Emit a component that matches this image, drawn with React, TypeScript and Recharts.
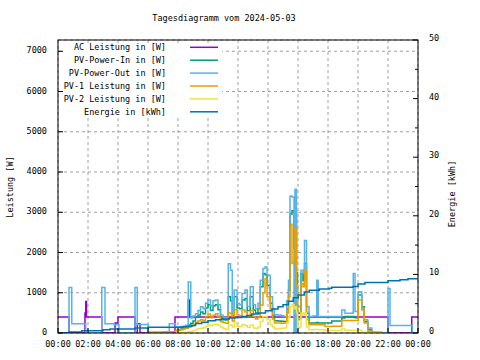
import React from "react";
import { LineChart, Line, XAxis, YAxis, CartesianGrid } from "recharts";

// AC power (W), step data
const acMinutes = [0, 44, 108, 111, 114, 175, 228, 240, 308, 317, 328, 468, 521, 525, 1320, 1415, 1440];
const acWatts = [400, 0, 500, 780, 400, 0, 250, 400, 0, 230, 0, 400, 820, 400, 0, 400, 400];

// PV-Power-Out night parts (W)
const outMorningMinutes = [0, 44, 55, 111, 175, 188, 225, 244, 308, 317, 361, 445];
const outMorningWatts = [0, 1130, 230, 0, 1130, 230, 205, 0, 1130, 210, 0, 230];
const outEveningMinutes = [1320, 1328, 1417, 1440];
const outEveningWatts = [1108, 188, 0, 0];

// daytime samples shared by the PV series
const dayMinutes = [
  470, 480, 490, 500, 510, 521, 531, 540, 550, 560,
  570, 580, 590, 600, 610, 620, 630, 640, 650, 660,
  670, 681, 690, 697, 705, 716, 726, 736, 748, 757,
  769, 781, 790, 800, 809, 820, 828, 836, 849, 858,
  866, 880, 892, 904, 915, 922, 928, 936, 944, 948,
  954, 958, 966, 972, 980, 986, 994, 1004, 1020, 1035,
  1041, 1068, 1095, 1135, 1148, 1181, 1188, 1201, 1215, 1225,
  1239, 1255, 1295,
];
const pvOutDay = [
  150, 150, 160, 170, 190, 1270, 370, 420, 480, 560,
  650, 600, 740, 820, 680, 800, 820, 700, 450, 400,
  380, 1720, 1560, 500, 1066, 740, 700, 984, 1066, 660,
  1150, 700, 600, 740, 1312, 1600, 1640, 1435, 902, 600,
  451, 450, 430, 410, 800, 1313, 3407, 3382, 0, 3571,
  0, 656, 650, 1560, 1480, 2300, 656, 410, 420, 1313,
  410, 410, 410, 574, 493, 1478, 533, 1025, 616, 328,
  123, 0, 0,
];
const pvInDay = [
  60, 80, 100, 120, 150, 200, 240, 300, 400, 450,
  520, 480, 620, 700, 560, 680, 700, 580, 380, 330,
  320, 900, 800, 420, 900, 620, 600, 820, 860, 560,
  900, 574, 500, 600, 1148, 1476, 1450, 1189, 738, 450,
  303, 300, 290, 287, 600, 1067, 2955, 3037, 2100, 3050,
  1500, 490, 500, 1478, 1300, 1724, 490, 246, 250, 260,
  250, 246, 300, 370, 410, 410, 380, 943, 655, 286,
  82, 0, 0,
];
const pv1Day = [
  60, 70, 80, 100, 120, 140, 170, 200, 260, 300,
  330, 310, 410, 470, 380, 440, 480, 400, 280, 260,
  240, 500, 480, 300, 575, 450, 430, 574, 520, 420,
  560, 410, 350, 400, 697, 1000, 1350, 902, 574, 350,
  246, 246, 240, 246, 500, 903, 2700, 1724, 1800, 2600,
  1200, 330, 350, 1230, 1150, 1560, 330, 205, 205, 210,
  205, 164, 170, 310, 310, 310, 310, 820, 574, 246,
  41, 25, 0,
];
const pv2Day = [
  0, 5, 10, 15, 20, 30, 40, 60, 90, 110,
  120, 130, 170, 200, 180, 210, 220, 190, 150, 110,
  90, 200, 190, 150, 246, 170, 160, 205, 180, 140,
  200, 123, 120, 150, 287, 410, 410, 328, 205, 150,
  98, 110, 120, 123, 250, 400, 655, 700, 600, 650,
  500, 123, 150, 500, 450, 500, 150, 82, 85, 85,
  82, 60, 60, 98, 70, 70, 70, 70, 16, 16,
  0, 0, 0,
];
const pv1EarlyMinutes = [355, 420];
const pv1EarlyWatts = [25, 30];

// Energie (kWh), cumulative
const energyMinutes = [
  0, 45, 95, 180, 208, 308, 360, 500, 520, 535,
  550, 575, 600, 630, 655, 685, 710, 735, 755, 775,
  803, 830, 856, 880, 900, 921, 941, 961, 985, 1005,
  1045, 1085, 1095, 1180, 1200, 1228, 1320, 1368, 1400, 1440,
];
const energyKwh = [
  0, 0.17, 0.4, 0.56, 0.68, 0.85, 1.0, 1.05, 1.15, 1.3,
  1.6, 1.85, 2.1, 2.25, 2.4, 2.55, 2.66, 2.83, 3.0, 3.24,
  3.4, 3.8, 4.1, 4.5, 4.8, 5.4, 6.0, 6.5, 7.0, 7.3,
  7.5, 7.65, 7.8, 7.95, 8.35, 8.63, 8.9, 9.1, 9.27, 9.27,
];

const hourTicks = [0, 120, 240, 360, 480, 600, 720, 840, 960, 1080, 1200, 1320, 1440];
const minorHourTicks = [60, 180, 300, 420, 540, 660, 780, 900, 1020, 1140, 1260, 1380];
const allHourTicks = [...hourTicks, ...minorHourTicks];
const wattTicks = [0, 1000, 2000, 3000, 4000, 5000, 6000, 7000];
const kwhTicks = [0, 5, 10, 15, 20, 25, 30, 35, 40, 45, 50];

const legendItems = [
  { label: "AC Leistung in [W]", color: "#9400d3" },
  { label: "PV-Power-In in [W]", color: "#009e73" },
  { label: "PV-Power-Out in [W]", color: "#56b4e9" },
  { label: "PV-1 Leistung in [W]", color: "#e69f00" },
  { label: "PV-2 Leistung in [W]", color: "#f0e442" },
  { label: "Energie in [kWh]", color: "#0072b2" },
];

const toPoints = (mins: number[], vals: number[]) => mins.map((m, i) => ({ m, v: vals[i] }));

const acData = toPoints(acMinutes, acWatts);
const pvOutData = toPoints(
  [...outMorningMinutes, ...dayMinutes, ...outEveningMinutes],
  [...outMorningWatts, ...pvOutDay, ...outEveningWatts]
);
const pvInData = toPoints(dayMinutes, pvInDay);
const pv1Data = toPoints([...pv1EarlyMinutes, ...dayMinutes], [...pv1EarlyWatts, ...pv1Day]);
const pv2Data = toPoints(dayMinutes.slice(1), pv2Day.slice(1));
const energyData = toPoints(energyMinutes, energyKwh);

const W = 480;
const H = 360;
// plot box: x 58..418, y 40..333 ; each axis takes 1px of the margin
const M = { top: 39, right: 61, bottom: 25, left: 57 };
const FONT = "'DejaVu Sans Mono', monospace";
const FS = 8.5;

const fmtTime = (m: number) => {
  const h = Math.floor((m % 1440) / 60);
  return `${String(h).padStart(2, "0")}:00`;
};

const BottomTick = ({ x, y, payload }: any) => (
  <g>
    <line x1={x} y1={y} x2={x} y2={y - 5} stroke="#000" />
    <text x={x} y={y + 14} textAnchor="middle" fontFamily={FONT} fontSize={FS} fill="#000">
      {fmtTime(payload.value)}
    </text>
  </g>
);
const MinorTick = ({ x, y }: any) => <line x1={x} y1={y - 1} x2={x} y2={y - 4} stroke="#000" />;
const TopTick = ({ x, y, payload }: any) => (
  <line x1={x} y1={y} x2={x} y2={y + (payload.value % 120 === 0 ? 5 : 3)} stroke="#000" />
);
const LeftTick = ({ x, y, payload }: any) => (
  <g>
    <line x1={x} y1={y} x2={x + 5} y2={y} stroke="#000" />
    <text x={x - 11} y={y + 2} textAnchor="end" fontFamily={FONT} fontSize={FS} fill="#000">
      {payload.value}
    </text>
  </g>
);
const RightTick = ({ x, y, payload }: any) => {
  const major = payload.value % 10 === 0;
  return (
    <g>
      <line x1={x} y1={y} x2={x - (major ? 5 : 3)} y2={y} stroke="#000" />
      {major && (
        <text x={x + 11} y={y + 1} textAnchor="start" fontFamily={FONT} fontSize={FS} fill="#000">
          {payload.value}
        </text>
      )}
    </g>
  );
};

const line = (data: any[], color: string, axis: string) => (
  <Line
    data={data}
    xAxisId="main"
    yAxisId={axis}
    dataKey="v"
    type="stepAfter"
    stroke={color}
    strokeWidth={1.5}
    dot={false}
    activeDot={false}
    isAnimationActive={false}
  />
);

export default function App() {
  return (
    <div style={{ position: "absolute", left: 0, top: 0, width: W, height: H, background: "#fff" }}>
      <LineChart width={W} height={H} margin={M}>
        <CartesianGrid xAxisId="main" yAxisId="left" stroke="#a0a0a0" strokeDasharray="3 3" />
        <XAxis xAxisId="main" dataKey="m" type="number" domain={[0, 1440]} ticks={hourTicks} interval={0}
          height={1} tickSize={0} tickMargin={0} axisLine={false} tickLine={false} tick={<BottomTick />} />
        <XAxis xAxisId="minor" dataKey="m" type="number" domain={[0, 1440]} ticks={minorHourTicks} interval={0}
          height={1} tickSize={0} tickMargin={0} axisLine={false} tickLine={false} tick={<MinorTick />} />
        <XAxis xAxisId="top" orientation="top" dataKey="m" type="number" domain={[0, 1440]} ticks={allHourTicks}
          interval={0} height={1} tickSize={0} tickMargin={0} axisLine={false} tickLine={false} tick={<TopTick />} />
        <YAxis yAxisId="left" domain={[0, 7280]} ticks={wattTicks} interval={0} width={1} tickSize={0}
          tickMargin={0} axisLine={false} tickLine={false} tick={<LeftTick />} allowDataOverflow />
        <YAxis yAxisId="right" orientation="right" domain={[0, 50]} ticks={kwhTicks} interval={0} width={1}
          tickSize={0} tickMargin={0} axisLine={false} tickLine={false} tick={<RightTick />} allowDataOverflow />
        {line(acData, "#9400d3", "left")}
        {line(pvInData, "#009e73", "left")}
        {line(pvOutData, "#56b4e9", "left")}
        {line(pv1Data, "#e69f00", "left")}
        {line(pv2Data, "#f0e442", "left")}
        {line(energyData, "#0072b2", "right")}
      </LineChart>
      <svg width={W} height={H} style={{ position: "absolute", left: 0, top: 0, pointerEvents: "none" }}>
        <rect x={64} y={46} width={158} height={72} fill="#fff" />
        {legendItems.map((it, i) => {
          const cy = 47.3 + i * 12.9;
          return (
            <g key={it.label}>
              <text x={166} y={cy + 3} textAnchor="end" fontFamily={FONT} fontSize={FS} fill="#000">
                {it.label}
              </text>
              <line x1={190} y1={cy} x2={218} y2={cy} stroke={it.color} strokeWidth={1.5} />
            </g>
          );
        })}
        <rect x={58} y={40} width={360} height={293} fill="none" stroke="#000" />
        <text x={224} y={21} textAnchor="middle" fontFamily={FONT} fontSize={FS} fill="#000">
          Tagesdiagramm vom 2024-05-03
        </text>
        <text transform="translate(13,187) rotate(-90)" textAnchor="middle" fontFamily={FONT} fontSize={FS} fill="#000">
          Leistung [W]
        </text>
        <text transform="translate(455,194) rotate(-90)" textAnchor="middle" fontFamily={FONT} fontSize={FS} fill="#000">
          Energie [kWh]
        </text>
      </svg>
    </div>
  );
}
